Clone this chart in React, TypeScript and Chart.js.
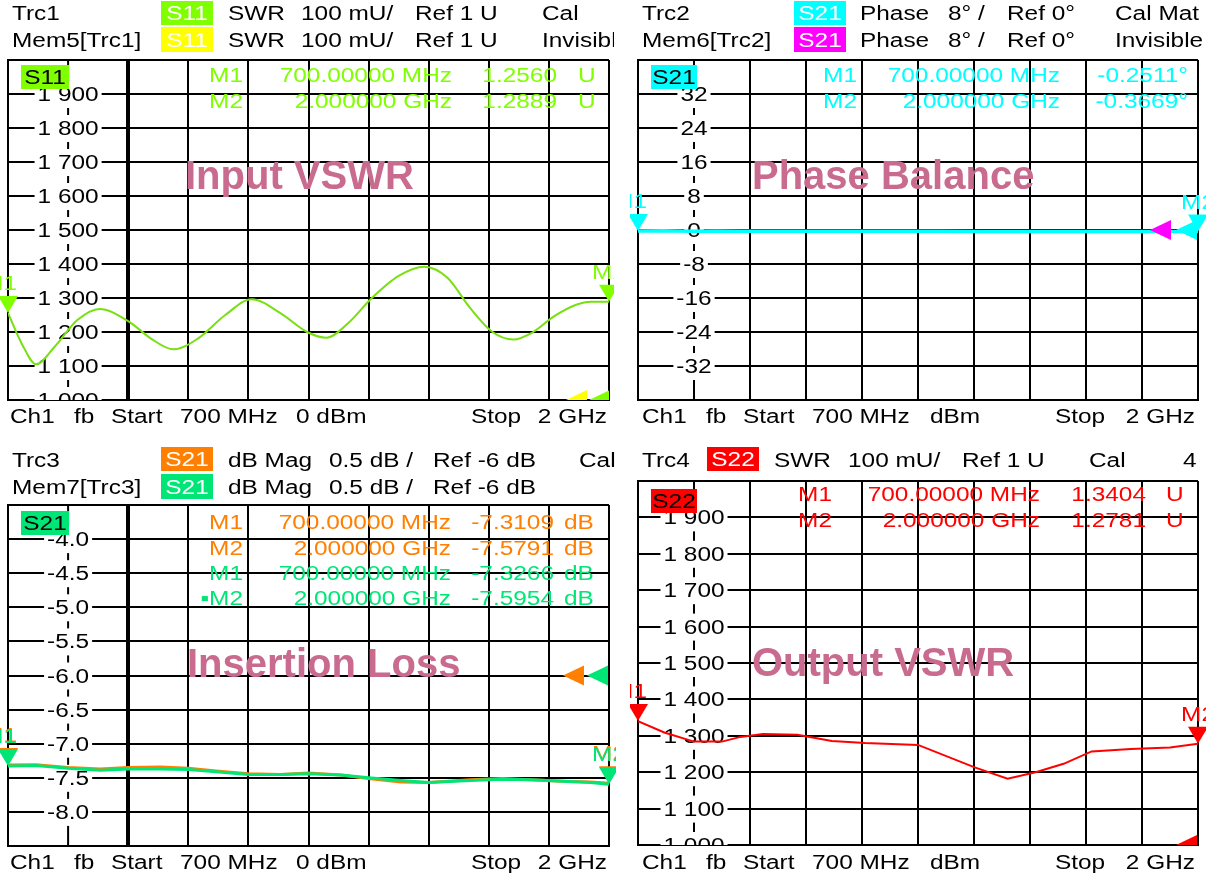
import React, { useEffect, useRef } from 'react';
import { Chart, registerables } from 'chart.js';

Chart.register(...registerables);

const FONT = '"Liberation Sans", Arial, Helvetica, sans-serif';
const SX = 1.22;
const TITLE = '#c96b8f';

// ---- sweep ----
const startMHz = 700;
const stopMHz = 2000;
const divMHz = 130;

// ---- Panel 1 : Input VSWR (S11) ----
const s11Freq = [700, 730, 761, 800, 850, 898, 960, 1010, 1058, 1110, 1170, 1227, 1290, 1347, 1389, 1435, 1487, 1545, 1601, 1650, 1700, 1748, 1793, 1836, 1880, 1929, 1961, 2000];
const s11Swr = [1.256, 1.165, 1.105, 1.155, 1.235, 1.268, 1.232, 1.18, 1.149, 1.18, 1.25, 1.296, 1.255, 1.2, 1.183, 1.225, 1.3, 1.365, 1.392, 1.36, 1.27, 1.2, 1.178, 1.2, 1.245, 1.28, 1.289, 1.289];
const swrTicks = [1.9, 1.8, 1.7, 1.6, 1.5, 1.4, 1.3, 1.2, 1.1, 1.0];
const swrTickLabels = ['1 900', '1 800', '1 700', '1 600', '1 500', '1 400', '1 300', '1 200', '1 100', '1 000'];

// ---- Panel 2 : Phase Balance (S21 phase) ----
const phFreq = [700, 760, 820, 880, 940, 1000, 1100, 1200, 1300, 1400, 1500, 1600, 1700, 1800, 1900, 2000];
const phDeg = [-0.251, -0.2, -0.31, -0.22, -0.3, -0.27, -0.29, -0.3, -0.31, -0.32, -0.33, -0.34, -0.35, -0.35, -0.36, -0.367];
const phaseTicks = [32, 24, 16, 8, 0, -8, -16, -24, -32];
const phaseTickLabels = ['32', '24', '16', '8', '0', '-8', '-16', '-24', '-32'];

// ---- Panel 3 : Insertion Loss (S21 dB) ----
const ilFreq = [700, 760, 830, 900, 960, 1030, 1090, 1150, 1220, 1290, 1350, 1420, 1480, 1550, 1610, 1700, 1770, 1830, 1900, 1960, 2000];
const ilMem = [-7.327, -7.32, -7.36, -7.39, -7.37, -7.37, -7.38, -7.41, -7.45, -7.45, -7.44, -7.46, -7.5, -7.54, -7.57, -7.54, -7.52, -7.53, -7.55, -7.57, -7.595];
const ilTrc = [-7.311, -7.31, -7.35, -7.37, -7.35, -7.34, -7.36, -7.4, -7.44, -7.45, -7.43, -7.46, -7.51, -7.56, -7.57, -7.53, -7.51, -7.53, -7.55, -7.56, -7.579];
const dbTicks = [-4.0, -4.5, -5.0, -5.5, -6.0, -6.5, -7.0, -7.5, -8.0];
const dbTickLabels = ['-4.0', '-4.5', '-5.0', '-5.5', '-6.0', '-6.5', '-7.0', '-7.5', '-8.0'];

// ---- Panel 4 : Output VSWR (S22) ----
const s22Freq = [700, 761, 830, 895, 938, 990, 1070, 1150, 1227, 1350, 1480, 1558, 1623, 1688, 1753, 1844, 1935, 2000];
const s22Swr = [1.3404, 1.309, 1.284, 1.284, 1.297, 1.305, 1.303, 1.286, 1.28, 1.275, 1.214, 1.182, 1.2, 1.223, 1.257, 1.264, 1.268, 1.2781];

// ---- marker readouts ----
const s11Read = [['M1', '700.00000 MHz', '1.2560', 'U'], ['M2', '2.000000 GHz', '1.2889', 'U']];
const phRead = [['M1', '700.00000 MHz', '-0.2511°', ''], ['M2', '2.000000 GHz', '-0.3669°', '']];
const ilTrcRead = [['M1', '700.00000 MHz', '-7.3109', 'dB'], ['M2', '2.000000 GHz', '-7.5791', 'dB']];
const ilMemRead = [['M1', '700.00000 MHz', '-7.3266', 'dB'], ['▪M2', '2.000000 GHz', '-7.5954', 'dB']];
const s22Read = [['M1', '700.00000 MHz', '1.3404', 'U'], ['M2', '2.000000 GHz', '1.2781', 'U']];

const GREEN = '#80ff00';
const GREEN_TR = '#78e010';
const YELLOW = '#ffff00';
const CYAN = '#00ffff';
const MAGENTA = '#ff00ff';
const ORANGE = '#ff8000';
const SPRING = '#00e676';
const RED = '#ff0000';

type Txt = { s: string; x: number; y: number; color?: string; align?: CanvasTextAlign; size?: number; bold?: boolean; sx?: number };
type Box = { x: number; y: number; w: number; h: number; fill: string; text: string; color: string };
type Marker = { ds: number; idx: number; label: string; color: string; dx: number };
type Ref = { value: number; tip: number; color: string };
type DS = { f: number[]; v: number[]; color: string; width: number; smooth: boolean };
type Panel = {
  key: string;
  region: { x: number; y: number; w: number; h: number };
  area: { l: number; t: number; r: number; b: number };
  yMin: number; yMax: number; yStep: number;
  ticks: number[]; tickLabels: string[];
  thick: boolean;
  datasets: DS[];
  texts: Txt[]; boxes: Box[];
  inner: Txt[]; innerBoxes: Box[];
  markers: Marker[]; refs: Ref[];
};

function row(y: number, items: [string, number][], color = '#000'): Txt[] {
  return items.map(([s, x]) => ({ s, x, y, color }));
}
function readout(y: number, r: string[], color: string, pos: [number, number, number, number]): Txt[] {
  const out: Txt[] = [
    { s: r[0], x: pos[0], y, color, align: 'right' },
    { s: r[1], x: pos[1], y, color, align: 'right' },
    { s: r[2], x: pos[2], y, color, align: 'right' },
  ];
  if (r[3]) out.push({ s: r[3], x: pos[3], y, color, align: 'left' });
  return out;
}
function footerL(y: number): Txt[] {
  return [...row(y, [['Ch1', 10], ['fb', 74], ['Start', 111], ['700 MHz', 180], ['0 dBm', 296], ['Stop', 471]]), { s: '2 GHz', x: 607, y, align: 'right' }];
}
function footerR(y: number): Txt[] {
  return [...row(y, [['Ch1', 642], ['fb', 706], ['Start', 743], ['700 MHz', 812], ['dBm', 930], ['Stop', 1055]]), { s: '2 GHz', x: 1195, y, align: 'right' }];
}

const panels: Panel[] = [
  {
    key: 'p1',
    region: { x: 0, y: 0, w: 614, h: 440 },
    area: { l: 8, t: 60, r: 609, b: 400 },
    yMin: 1, yMax: 2, yStep: 0.1,
    ticks: swrTicks, tickLabels: swrTickLabels, thick: true,
    datasets: [{ f: s11Freq, v: s11Swr, color: GREEN_TR, width: 2, smooth: true }],
    texts: [
      ...row(20, [['Trc1', 12], ['SWR', 228], ['100 mU/', 301], ['Ref 1 U', 415], ['Cal', 542]]),
      ...row(47, [['Mem5[Trc1]', 12], ['SWR', 228], ['100 mU/', 301], ['Ref 1 U', 415], ['Invisible', 542]]),
      ...footerL(423),
    ],
    boxes: [
      { x: 161, y: 1, w: 52, h: 24, fill: GREEN, text: 'S11', color: '#fff' },
      { x: 161, y: 27, w: 52, h: 25, fill: YELLOW, text: 'S11', color: '#fff' },
    ],
    inner: [
      ...readout(82, s11Read[0], GREEN, [243, 452, 557, 578]),
      ...readout(108, s11Read[1], GREEN, [243, 452, 557, 578]),
      { s: 'Input VSWR', x: 185, y: 189, color: TITLE, size: 40, bold: true, sx: 1 },
    ],
    innerBoxes: [{ x: 21, y: 65, w: 48, h: 24, fill: GREEN, text: 'S11', color: '#000' }],
    markers: [
      { ds: 0, idx: 0, label: 'M1', color: GREEN, dx: -8 },
      { ds: 0, idx: s11Freq.length - 1, label: 'M2', color: GREEN, dx: 0 },
    ],
    refs: [
      { value: 1, tip: 566, color: YELLOW },
      { value: 1, tip: 589, color: GREEN },
    ],
  },
  {
    key: 'p2',
    region: { x: 630, y: 0, w: 576, h: 440 },
    area: { l: 638, t: 60, r: 1198, b: 400 },
    yMin: -40, yMax: 40, yStep: 8,
    ticks: phaseTicks, tickLabels: phaseTickLabels, thick: false,
    datasets: [{ f: phFreq, v: phDeg, color: CYAN, width: 3.5, smooth: false }],
    texts: [
      ...row(20, [['Trc2', 642], ['Phase', 860], ['8° /', 948], ['Ref 0°', 1007], ['Cal Mat', 1115]]),
      ...row(47, [['Mem6[Trc2]', 642], ['Phase', 860], ['8° /', 948], ['Ref 0°', 1007], ['Invisible', 1115]]),
      ...footerR(423),
    ],
    boxes: [
      { x: 794, y: 1, w: 52, h: 24, fill: CYAN, text: 'S21', color: '#fff' },
      { x: 794, y: 27, w: 52, h: 25, fill: MAGENTA, text: 'S21', color: '#fff' },
    ],
    inner: [
      ...readout(82, phRead[0], CYAN, [857, 1060, 1188, 0]),
      ...readout(108, phRead[1], CYAN, [857, 1060, 1188, 0]),
      { s: 'Phase Balance', x: 752, y: 189, color: TITLE, size: 40, bold: true, sx: 1 },
    ],
    innerBoxes: [{ x: 651, y: 65, w: 46, h: 24, fill: CYAN, text: 'S21', color: '#000' }],
    markers: [
      { ds: 0, idx: 0, label: 'M1', color: CYAN, dx: -8 },
      { ds: 0, idx: phFreq.length - 1, label: 'M2', color: CYAN, dx: 0 },
    ],
    refs: [
      { value: 0, tip: 1150, color: MAGENTA },
      { value: 0, tip: 1176, color: CYAN },
    ],
  },
  {
    key: 'p3',
    region: { x: 0, y: 440, w: 616, h: 436 },
    area: { l: 8, t: 505, r: 609, b: 846 },
    yMin: -8.5, yMax: -3.5, yStep: 0.5,
    ticks: dbTicks, tickLabels: dbTickLabels, thick: true,
    datasets: [
      { f: ilFreq, v: ilMem, color: SPRING, width: 3, smooth: false },
      { f: ilFreq, v: ilTrc, color: ORANGE, width: 3, smooth: false },
    ],
    texts: [
      ...row(467, [['Trc3', 12], ['dB Mag', 228], ['0.5 dB /', 329], ['Ref -6 dB', 433], ['Cal', 579]]),
      ...row(494, [['Mem7[Trc3]', 12], ['dB Mag', 228], ['0.5 dB /', 329], ['Ref -6 dB', 433]]),
      ...footerL(869),
    ],
    boxes: [
      { x: 161, y: 447, w: 52, h: 24, fill: ORANGE, text: 'S21', color: '#fff' },
      { x: 161, y: 474, w: 52, h: 25, fill: SPRING, text: 'S21', color: '#fff' },
    ],
    inner: [
      ...readout(529, ilTrcRead[0], ORANGE, [243, 451, 554, 564]),
      ...readout(555, ilTrcRead[1], ORANGE, [243, 451, 554, 564]),
      ...readout(580, ilMemRead[0], SPRING, [243, 451, 554, 564]),
      ...readout(605, ilMemRead[1], SPRING, [243, 451, 554, 564]),
      { s: 'Insertion Loss', x: 187, y: 677, color: TITLE, size: 40, bold: true, sx: 1 },
    ],
    innerBoxes: [{ x: 21, y: 511, w: 48, h: 24, fill: SPRING, text: 'S21', color: '#000' }],
    markers: [
      { ds: 1, idx: 0, label: 'M1', color: ORANGE, dx: -8 },
      { ds: 1, idx: ilFreq.length - 1, label: 'M2', color: ORANGE, dx: 0 },
      { ds: 0, idx: 0, label: 'M1', color: SPRING, dx: -8 },
      { ds: 0, idx: ilFreq.length - 1, label: 'M2', color: SPRING, dx: 0 },
    ],
    refs: [
      { value: -6, tip: 563, color: ORANGE },
      { value: -6, tip: 587, color: SPRING },
    ],
  },
  {
    key: 'p4',
    region: { x: 630, y: 440, w: 576, h: 436 },
    area: { l: 638, t: 481, r: 1198, b: 845 },
    yMin: 1, yMax: 2, yStep: 0.1,
    ticks: swrTicks, tickLabels: swrTickLabels, thick: false,
    datasets: [{ f: s22Freq, v: s22Swr, color: RED, width: 2, smooth: false }],
    texts: [
      ...row(467, [['Trc4', 642], ['SWR', 774], ['100 mU/', 848], ['Ref 1 U', 962], ['Cal', 1089], ['4', 1183]]),
      ...footerR(869),
    ],
    boxes: [{ x: 707, y: 447, w: 52, h: 24, fill: RED, text: 'S22', color: '#fff' }],
    inner: [
      ...readout(501, s22Read[0], RED, [832, 1040, 1146, 1166]),
      ...readout(527, s22Read[1], RED, [832, 1040, 1146, 1166]),
      { s: 'Output VSWR', x: 752, y: 676, color: TITLE, size: 40, bold: true, sx: 1 },
    ],
    innerBoxes: [{ x: 651, y: 489, w: 46, h: 24, fill: RED, text: 'S22', color: '#000' }],
    markers: [
      { ds: 0, idx: 0, label: 'M1', color: RED, dx: -8 },
      { ds: 0, idx: s22Freq.length - 1, label: 'M2', color: RED, dx: 0 },
    ],
    refs: [{ value: 1, tip: 1176, color: RED }],
  },
];

function drawText(ctx: CanvasRenderingContext2D, t: Txt) {
  const size = t.size ?? 20;
  ctx.save();
  ctx.font = `${t.bold ? 'bold ' : ''}${size}px ${FONT}`;
  ctx.fillStyle = t.color ?? '#000';
  ctx.textAlign = t.align ?? 'left';
  ctx.textBaseline = 'alphabetic';
  ctx.translate(t.x, t.y);
  ctx.scale(t.sx ?? SX, 1);
  ctx.fillText(t.s, 0, 0);
  ctx.restore();
}

function drawBox(ctx: CanvasRenderingContext2D, b: Box) {
  ctx.save();
  ctx.fillStyle = b.fill;
  ctx.fillRect(b.x, b.y, b.w, b.h);
  ctx.restore();
  drawText(ctx, { s: b.text, x: b.x + b.w / 2, y: b.y + b.h / 2 + 7, color: b.color, align: 'center' });
}

function panelPlugin(p: Panel) {
  return {
    id: 'vna-' + p.key,
    beforeDatasetsDraw(chart: any) {
      const ctx: CanvasRenderingContext2D = chart.ctx;
      const { left, right, top, bottom } = chart.chartArea;
      const xs = chart.scales.x;
      const ys = chart.scales.y;
      ctx.save();
      ctx.beginPath();
      ctx.rect(left, top, right - left, bottom - top);
      ctx.clip();
      const ax = xs.getPixelForValue(startMHz + divMHz);
      ctx.strokeStyle = '#000';
      ctx.lineWidth = 2;
      ctx.beginPath();
      ctx.moveTo(ax, top);
      ctx.lineTo(ax, bottom);
      ctx.stroke();
      ctx.font = `20px ${FONT}`;
      p.ticks.forEach((v, i) => {
        const y = ys.getPixelForValue(v);
        const label = p.tickLabels[i];
        const w = ctx.measureText(label).width * SX;
        ctx.fillStyle = '#fff';
        ctx.fillRect(ax - w / 2 - 3, y - 13, w + 6, 27);
        drawText(ctx, { s: label, x: ax, y: y + 7, align: 'center' });
      });
      ctx.translate(-p.region.x, -p.region.y);
      p.inner.forEach((t) => drawText(ctx, t));
      ctx.restore();
    },
    afterDatasetsDraw(chart: any) {
      const ctx: CanvasRenderingContext2D = chart.ctx;
      const { left, right, top, bottom } = chart.chartArea;
      const xs = chart.scales.x;
      const ys = chart.scales.y;
      ctx.save();
      ctx.beginPath();
      ctx.rect(left, top, right - left, bottom - top);
      ctx.clip();
      p.refs.forEach((r) => {
        const y = ys.getPixelForValue(r.value);
        const tx = r.tip - p.region.x;
        ctx.fillStyle = r.color;
        ctx.beginPath();
        ctx.moveTo(tx, y);
        ctx.lineTo(tx + 21, y - 10);
        ctx.lineTo(tx + 21, y + 10);
        ctx.closePath();
        ctx.fill();
      });
      ctx.restore();
      ctx.save();
      p.markers.forEach((m) => {
        const d = p.datasets[m.ds];
        const x = xs.getPixelForValue(d.f[m.idx]);
        const y = ys.getPixelForValue(d.v[m.idx]);
        ctx.fillStyle = m.color;
        ctx.beginPath();
        ctx.moveTo(x, y);
        ctx.lineTo(x - 10, y - 17);
        ctx.lineTo(x + 10, y - 17);
        ctx.closePath();
        ctx.fill();
        drawText(ctx, { s: m.label, x: x + m.dx, y: y - 23, color: m.color, align: 'center' });
      });
      ctx.translate(-p.region.x, -p.region.y);
      p.innerBoxes.forEach((b) => drawBox(ctx, b));
      ctx.restore();
    },
    afterDraw(chart: any) {
      const ctx: CanvasRenderingContext2D = chart.ctx;
      ctx.save();
      ctx.translate(-p.region.x, -p.region.y);
      p.boxes.forEach((b) => drawBox(ctx, b));
      p.texts.forEach((t) => drawText(ctx, t));
      ctx.restore();
    },
  };
}

function buildConfig(p: Panel): any {
  const { region, area } = p;
  return {
    type: 'line',
    data: {
      datasets: p.datasets.map((d) => ({
        data: d.f.map((f, i) => ({ x: f, y: d.v[i] })),
        borderColor: d.color,
        borderWidth: d.width,
        pointRadius: 0,
        fill: false,
        tension: d.smooth ? 0.4 : 0,
        cubicInterpolationMode: d.smooth ? 'monotone' : 'default',
      })),
    },
    options: {
      animation: false,
      responsive: false,
      maintainAspectRatio: false,
      events: [],
      layout: {
        padding: {
          left: area.l - region.x,
          top: area.t - region.y,
          right: region.x + region.w - area.r,
          bottom: region.y + region.h - area.b,
        },
      },
      plugins: { legend: { display: false }, tooltip: { enabled: false }, title: { display: false } },
      scales: {
        x: {
          type: 'linear',
          min: startMHz,
          max: stopMHz,
          ticks: { display: false, stepSize: divMHz },
          grid: {
            drawTicks: false,
            color: (c: any) => (c.index === 1 ? 'rgba(0,0,0,0)' : '#000'),
            lineWidth: (c: any) => (p.thick && c.index === 2 ? 4 : 2),
          },
          border: { display: true, color: '#000', width: 2 },
        },
        y: {
          type: 'linear',
          min: p.yMin,
          max: p.yMax,
          ticks: { display: false, stepSize: p.yStep },
          grid: { drawTicks: false, color: '#000', lineWidth: 2 },
          border: { display: true, color: '#000', width: 2 },
        },
      },
    },
    plugins: [panelPlugin(p)],
  };
}

function PanelChart({ p }: { p: Panel }) {
  const ref = useRef<HTMLCanvasElement>(null);
  useEffect(() => {
    if (!ref.current) return;
    const chart = new Chart(ref.current, buildConfig(p));
    return () => chart.destroy();
  }, [p]);
  return (
    <canvas
      ref={ref}
      width={p.region.w}
      height={p.region.h}
      style={{ position: 'absolute', left: p.region.x, top: p.region.y, width: p.region.w, height: p.region.h }}
    />
  );
}

export default function App() {
  return (
    <div style={{ position: 'absolute', left: 0, top: 0, width: 1206, height: 876, background: '#fff', overflow: 'hidden' }}>
      {panels.map((p) => (
        <PanelChart key={p.key} p={p} />
      ))}
    </div>
  );
}
